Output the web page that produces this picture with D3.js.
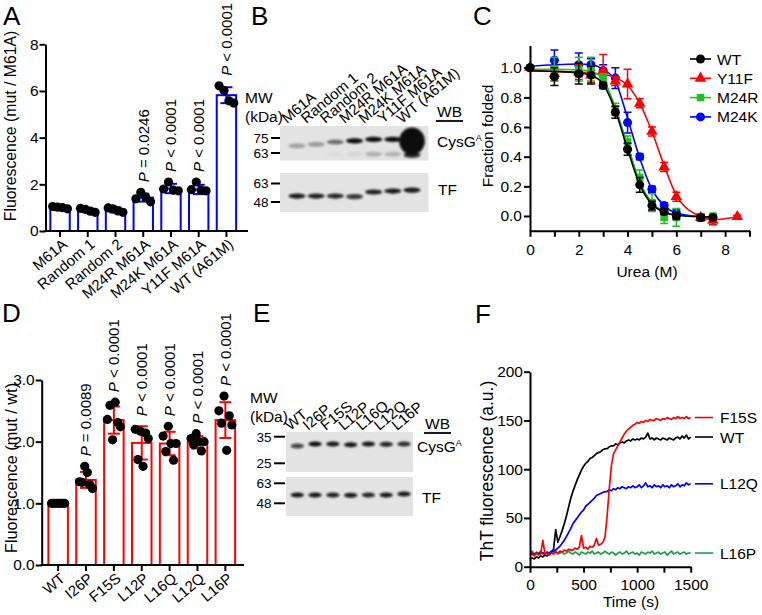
<!DOCTYPE html>
<html><head><meta charset="utf-8">
<script src="https://cdn.jsdelivr.net/npm/d3@7"></script>
<style>
body{margin:0;background:#fff}
svg{display:block}
text{font-family:"Liberation Sans",Arial,Helvetica,sans-serif;fill:#000}
</style>
</head><body><script>
// ================= DATA =================
// Panel A
const aCategories = ["M61A","Random 1","Random 2","M24R M61A","M24K M61A","Y11F M61A","WT (A61M)"];
const aMeans = [1.0,0.89,0.9,1.43,1.82,1.78,5.82];
const aSD = [0.05,0.08,0.11,0.17,0.2,0.2,0.34];
const aPoints = [[1.05,1.02,1.0,0.95],[0.97,0.93,0.85,0.8],[0.99,0.95,0.86,0.8],[1.38,1.66,1.45,1.25],[1.8,2.1,1.75,1.72],[1.77,2.1,1.75,1.72],[6.22,6.02,5.58,5.48]];
const aPValues = [null,null,null,"= 0.0246","< 0.0001","< 0.0001","< 0.0001"];
const aTicks = [0,2,4,6,8];

// Panel B (western blot)
const bLanes = ["M61A","Random 1","Random 2","M24R M61A","M24K M61A","Y11F M61A","WT (A61M)"];
const bCysMW = [68.5,69.7,71.6,72.6,73.8,73.8,72.4];
const bCysIntensity = [0.28,0.3,0.5,1.0,1.05,1.0,3.6];
const bCysLowMW = [62,62,62,62,62.2,62.2,61.5];
const bCysLowIntensity = [0,0,0.03,0.05,0.22,0.2,0.9];
const bTFMW = [52.4,52.4,52.4,52.0,55.6,56.4,57.2];
const bTFIntensity = [0.95,0.92,0.88,0.8,0.92,0.95,0.95];
const bMarkersCys = [75,63];
const bMarkersTF = [63,48];

// Panel C
const cUrea = [0,1,2,2.5,3,3.5,4,4.5,5,5.5,6,7,7.5];
const cUreaY11F = [0,1,2,2.5,3,3.5,4,4.5,5,5.5,6,7,7.5,8.5];
const cWT = [1.0,0.94,0.96,0.95,0.88,0.70,0.45,0.21,0.07,0.03,0.0,-0.01,-0.01];
const cWTsd = [0.01,0.06,0.07,0.06,0.02,0.04,0.04,0.05,0.03,0.02,0.02,0.02,0.01];
const cY11F = [1.0,0.96,0.97,0.95,0.98,0.91,0.89,0.76,0.57,0.33,0.13,-0.01,-0.03,-0.005];
const cY11Fsd = [0.01,0.05,0.05,0.05,0.11,0.03,0.1,0.03,0.03,0.03,0.03,0.02,0.03,0.01];
const cM24R = [1.0,0.99,0.99,0.99,0.93,0.72,0.50,0.26,0.09,-0.01,-0.01,-0.01,0.0];
const cM24Rsd = [0.01,0.08,0.08,0.08,0.03,0.04,0.04,0.05,0.06,0.04,0.06,0.02,0.01];
const cM24K = [1.0,1.05,1.02,1.02,0.98,0.93,0.63,0.40,0.18,0.07,0.02,-0.01,-0.01];
const cM24Ksd = [0.01,0.07,0.08,0.04,0.04,0.07,0.07,0.02,0.02,0.02,0.02,0.02,0.01];
const cFitWT = [0.98,0.975,0.965,0.95,0.89,0.71,0.45,0.21,0.08,0.025,0.005,-0.005,-0.005];
const cFitM24R = [0.99,0.99,0.985,0.975,0.92,0.73,0.48,0.23,0.09,0.03,0.005,-0.005,-0.005];
const cFitM24K = [1.01,1.02,1.025,1.02,0.99,0.91,0.66,0.39,0.18,0.07,0.02,-0.005,-0.01];
const cFitY11F = [0.98,0.975,0.97,0.965,0.955,0.935,0.88,0.76,0.57,0.34,0.14,-0.005,-0.025,-0.005];
const cXTicks = [0,1,2,3,4,5,6,7,8,9];
const cXLabels = [0,2,4,6,8];
const cYTicks = [0,0.2,0.4,0.6,0.8,1.0];

// Panel D
const dCategories = ["WT","I26P","F15S","L12P","L16Q","L12Q","L16P"];
const dMeans = [1.0,1.38,2.35,1.98,1.97,1.99,2.35];
const dSD = [0.0,0.13,0.22,0.27,0.19,0.1,0.29];
const dPoints = [[1,1,1,1,1,1],[1.35,1.34,1.6,1.5,1.3,1.24],[2.36,2.59,2.03,2.64,2.31,2.24],[2.2,1.71,2.17,1.6,2.14,2.05],[2.09,1.84,2.25,1.97,1.7,1.97],[2.05,1.95,2.13,2.0,1.85,2.0],[2.5,2.3,2.74,1.86,2.42,2.27]];
const dPValues = [null,"= 0.0089","< 0.0001","< 0.0001","< 0.0001","< 0.0001","< 0.0001"];
const dTicks = [0,1,2,3];

// Panel E (western blot)
const eLanes = ["WT","I26P","F15S","L12P","L16Q","L12Q","L16P"];
const eCysMW = [31.1,31.9,31.9,31.6,31.9,31.8,31.9];
const eCysIntensity = [0.75,1.0,0.95,0.95,0.95,0.9,0.85];
const eTFMW = [53.7,53.7,53.7,53.5,53.7,53.7,54.4];
const eTFIntensity = [0.95,0.95,0.9,0.95,0.88,0.95,0.95];
const eMarkersCys = [35,25];
const eMarkersTF = [63,48];

// Panel F
const fTime = [0,20,40,60,80,100,120,140,160,180,200,220,240,260,280,300,320,340,360,380,400,420,440,460,480,500,520,540,560,580,600,620,640,660,680,700,720,740,760,780,800,820,840,860,880,900,920,940,960,980,1000,1020,1040,1060,1080,1100,1120,1140,1160,1180,1200,1220,1240,1260,1280,1300,1320,1340,1360,1380,1400,1420,1440,1460,1480,1500];
const fWT = [8,9,8,10,9,11,10,12,11,13,15,18,38,25,31,37,44,52,61,70,77,83,89,94,99,103,106,108,111,112,114,116,117,118,120,121,121,123,124,124,126,125,127,128,127,129,130,129,131,130,131,130,132,131,133,137,131,132,130,132,131,130,132,131,130,132,131,130,132,133,131,134,132,135,131,133];
const fF15S = [12,13,11,14,12,13,27,13,14,12,14,13,15,14,16,15,17,16,18,17,17,19,18,20,32,19,20,18,21,20,22,29,22,23,25,30,52,80,104,116,120,124,128,132,136,139,141,143,145,146,148,147,149,148,150,149,151,150,150,152,151,150,152,151,153,152,151,153,152,154,152,153,152,154,152,153];
const fL12Q = [13,14,12,14,13,15,14,13,15,14,16,16,17,19,21,24,27,31,35,39,44,47,50,53,56,58,62,64,66,68,70,73,74,75,76,77,77,79,78,80,79,81,80,82,81,80,82,81,83,81,82,84,81,83,86,82,83,81,84,82,83,81,84,82,83,81,84,82,83,85,82,84,83,86,84,85];
const fL16P = [15,16,13,15,14,16,13,15,14,13,15,14,16,13,14,15,13,14,16,14,13,15,14,12,15,14,13,15,14,16,13,14,15,13,14,16,14,13,15,14,12,14,15,13,14,16,13,14,15,13,14,12,15,14,13,15,14,16,13,14,15,13,14,15,12,14,16,13,14,15,13,14,15,13,14,14];
const fXTicks = [0,250,500,750,1000,1250,1500];
const fXLabels = [0,500,1000,1500];
const fYTicks = [0,50,100,150,200];

// ================= DRAWING =================
const svg = d3.select("body").append("svg").attr("width",762).attr("height",615);
const defs = svg.append("defs");
defs.append("filter").attr("id","blur").attr("x","-50%").attr("y","-100%").attr("width","200%").attr("height","300%")
  .append("feGaussianBlur").attr("stdDeviation",1.1);

function styleAxis(ag){
  ag.attr("font-family",null).attr("font-size",null);
  ag.select(".domain").attr("stroke","#000").attr("stroke-width",2);
  ag.selectAll(".tick line").attr("stroke","#000").attr("stroke-width",2);
  ag.selectAll(".tick text").attr("fill","#000").attr("font-size",15.5);
}
function letter(t,x,y){ svg.append("text").attr("x",x).attr("y",y).attr("font-size",26).text(t); }
function rotTitle(t,x,y,fs){ svg.append("text").attr("transform",`translate(${x},${y}) rotate(-90)`).attr("text-anchor","middle").attr("font-size",fs||15.5).text(t); }

function barPanel(c){
  const x = d3.scaleBand().domain(c.cats).range(c.xr).paddingInner(0.25).paddingOuter(0.15);
  const y = d3.scaleLinear().domain(c.yd).range(c.yr);
  const mid = d => x(d) + x.bandwidth()/2;
  const rows = c.cats.map((cat,i)=>({cat, mean:c.means[i], sd:c.sd[i], pts:c.points[i], p:c.p[i]}));
  const g = svg.append("g");
  g.selectAll("rect.bar").data(rows).join("rect").attr("class","bar")
    .attr("x",d=>x(d.cat)+0.7).attr("width",x.bandwidth()-1.4)
    .attr("y",d=>y(d.mean)).attr("height",d=>y(0)-y(d.mean))
    .attr("fill","#fff").attr("stroke",c.color).attr("stroke-width",2);
  const eb = g.selectAll("g.eb").data(rows).join("g").attr("class","eb")
    .attr("stroke",c.color).attr("stroke-width",2);
  eb.append("line").attr("x1",d=>mid(d.cat)).attr("x2",d=>mid(d.cat)).attr("y1",d=>y(d.mean-d.sd)).attr("y2",d=>y(d.mean+d.sd));
  eb.append("line").attr("x1",d=>mid(d.cat)-6).attr("x2",d=>mid(d.cat)+6).attr("y1",d=>y(d.mean+d.sd)).attr("y2",d=>y(d.mean+d.sd));
  eb.append("line").attr("x1",d=>mid(d.cat)-6).attr("x2",d=>mid(d.cat)+6).attr("y1",d=>y(d.mean-d.sd)).attr("y2",d=>y(d.mean-d.sd));
  g.selectAll("g.pts").data(rows).join("g").attr("class","pts")
    .selectAll("circle").data(d=>d.pts.map((v,j)=>({v,j,n:d.pts.length,cat:d.cat}))).join("circle")
    .attr("cx",d=>mid(d.cat)+(d.j-(d.n-1)/2)*c.step).attr("cy",d=>y(d.v)).attr("r",4.6).attr("fill","#000");
  // p labels
  g.selectAll("text.pl").data(rows.filter(d=>d.p)).join("text").attr("class","pl")
    .attr("font-size",15)
    .attr("transform",d=>{const top=Math.min(y(d3.max(d.pts)),y(d.mean+d.sd))-10; return `translate(${mid(d.cat)+5.3},${top}) rotate(-90)`;})
    .each(function(d){const t=d3.select(this); t.append("tspan").attr("font-style","italic").text("P"); t.append("tspan").text(" "+d.p);});
  // axes
  const ya = g.append("g").attr("transform",`translate(${c.axisX},0)`)
    .call(d3.axisLeft(y).tickValues(c.ticks).tickSize(6).tickPadding(1).tickSizeOuter(0));
  styleAxis(ya);
  const xa = g.append("g").attr("transform",`translate(0,${y(0)})`)
    .call(d3.axisBottom(x).tickSize(6).tickSizeOuter(0));
  styleAxis(xa);
  xa.select(".domain").remove();
  xa.selectAll(".tick text").attr("x",0).attr("y",0).attr("dy",0).attr("text-anchor","end")
    .attr("font-size",15).attr("transform","translate(8,15) rotate(-40)");
  g.append("line").attr("x1",c.axisX).attr("x2",c.axisEnd).attr("y1",y(0)).attr("y2",y(0))
    .attr("stroke","#000").attr("stroke-width",2).attr("stroke-linecap","square");
  rotTitle(c.title,c.titleX,c.titleY,c.titleFs);
}

barPanel({cats:aCategories,means:aMeans,sd:aSD,points:aPoints,p:aPValues,ticks:aTicks,
  yd:[0,8],yr:[231,44.3],xr:[45.5,241],axisX:45.5,axisEnd:247,color:"#0000ff",step:4.9,
  title:"Fluorescence (mut / M61A)",titleX:16,titleY:126,titleFs:15.8});
barPanel({cats:dCategories,means:dMeans,sd:dSD,points:dPoints,p:dPValues,ticks:dTicks,
  yd:[0,3],yr:[565,380],xr:[43.5,240],axisX:41.7,axisEnd:243,color:"#ff0000",step:2.6,
  title:"Fluorescence (mut / wt)",titleX:16.5,titleY:468,titleFs:16.3});

// ---------- Blots ----------
function blotPanel(c){
  const lane = d3.scalePoint().domain(c.lanes).range(c.laneRange);
  const g = svg.append("g");
  c.strips.forEach(s=>{
    const mw = d3.scaleLog().domain(s.markers).range(s.markerY);
    g.append("rect").attr("x",c.x0).attr("y",s.y0).attr("width",c.x1-c.x0).attr("height",s.y1-s.y0).attr("fill","#e3e3e3");
    const bg = g.append("g").attr("filter","url(#blur)");
    s.bands.forEach(b=>{
      bg.selectAll(null).data(c.lanes.map((l,i)=>({l,mw:b.mw[i],v:b.int[i]})).filter(d=>d.v>0)).join("ellipse")
        .attr("cx",d=>lane(d.l)).attr("cy",d=>mw(d.mw))
        .attr("rx",d=>c.rx+Math.max(0,d.v-1.2)*1.8).attr("ry",d=>c.ry+Math.max(0,d.v-1.2)*4.6)
        .attr("fill","#0a0a0a").attr("fill-opacity",d=>Math.min(1,d.v));
    });
    s.markers.forEach(m=>{
      g.append("line").attr("x1",c.dash[0]).attr("x2",c.dash[1]).attr("y1",mw(m)).attr("y2",mw(m)).attr("stroke","#000").attr("stroke-width",2);
      g.append("text").attr("x",c.dash[0]-2.5).attr("y",mw(m)).attr("dy","0.36em").attr("text-anchor","end").attr("font-size",c.mwFont).text(m);
    });
  });
  g.selectAll("text.lane").data(c.lanes).join("text").attr("class","lane").attr("font-size",c.laneFont)
    .attr("transform",d=>`translate(${lane(d)+c.labOff},${c.labY}) rotate(-40)`).text(d=>d);
  g.append("text").attr("x",c.mwX).attr("y",c.mwY).attr("font-size",15.5).text("MW");
  g.append("text").attr("x",c.mwX).attr("y",c.mwY+19).attr("font-size",15.5).text("(kDa)");
  g.append("text").attr("x",c.wb[0]).attr("y",c.wb[1]).attr("font-size",15.5).text("WB");
  g.append("line").attr("x1",c.wb[0]-1).attr("x2",c.wb[0]+26).attr("y1",c.wb[1]+4).attr("y2",c.wb[1]+4).attr("stroke","#000").attr("stroke-width",1.8);
  const cy = g.append("text").attr("x",c.cys[0]).attr("y",c.cys[1]).attr("font-size",15.5);
  cy.append("tspan").text("CysG");
  cy.append("tspan").attr("font-size",9).attr("dy",-6).text("A");
  g.append("text").attr("x",c.tf[0]).attr("y",c.tf[1]).attr("font-size",15.5).text("TF");
}

blotPanel({lanes:bLanes,laneRange:[297,412],x0:280,x1:428.5,rx:8.5,ry:2.6,dash:[271,280],mwFont:13.5,laneFont:15,
  strips:[
    {y0:126,y1:160.5,markers:bMarkersCys,markerY:[138,153],bands:[{mw:bCysMW,int:bCysIntensity},{mw:bCysLowMW,int:bCysLowIntensity}]},
    {y0:173,y1:212,markers:bMarkersTF,markerY:[183.5,202],bands:[{mw:bTFMW,int:bTFIntensity}]}
  ],
  labOff:-10,labY:124,mwX:245,mwY:103,wb:[437,117],cys:[437,147],tf:[438,195]});

blotPanel({lanes:eLanes,laneRange:[297.3,404],x0:286,x1:413,rx:6.6,ry:2.5,dash:[274,285],mwFont:13.5,laneFont:15,
  strips:[
    {y0:432,y1:472,markers:eMarkersCys,markerY:[436.7,463.3],bands:[{mw:eCysMW,int:eCysIntensity}]},
    {y0:477,y1:516,markers:eMarkersTF,markerY:[483.3,503.3],bands:[{mw:eTFMW,int:eTFIntensity}]}
  ],
  labOff:-7,labY:431,mwX:250,mwY:403,wb:[425,429],cys:[417,452],tf:[422,503]});

// ---------- Panel C ----------
(function(){
  const x = d3.scaleLinear().domain([0,9]).range([530,749.5]);
  const y = d3.scaleLinear().domain([-0.1,1.15]).range([230.8,45.5]);
  const g = svg.append("g");
  const series = [
    {name:"M24K",xs:cUrea,ys:cM24K,sd:cM24Ksd,fit:cFitM24K,color:"#0000ff",sym:d3.symbolCircle,size:64},
    {name:"Y11F",xs:cUreaY11F,ys:cY11F,sd:cY11Fsd,fit:cFitY11F,color:"#ff0000",sym:d3.symbolTriangle,size:58},
    {name:"M24R",xs:cUrea,ys:cM24R,sd:cM24Rsd,fit:cFitM24R,color:"#1fc01f",sym:d3.symbolSquare,size:56},
    {name:"WT",xs:cUrea,ys:cWT,sd:cWTsd,fit:cFitWT,color:"#000000",sym:d3.symbolCircle,size:64}
  ];
  series.forEach(s=>{
    const line = d3.line().x((d,i)=>x(s.xs[i])).y(d=>y(d)).curve(d3.curveMonotoneX);
    g.append("path").attr("d",line(s.fit)).attr("fill","none").attr("stroke",s.color).attr("stroke-width",1.6);
    const pts = s.ys.map((v,i)=>({x:s.xs[i],v,sd:s.sd[i]}));
    const eg = g.append("g").attr("stroke",s.color).attr("stroke-width",1.5);
    eg.selectAll("path").data(pts).join("path")
      .attr("d",d=>`M${x(d.x)},${y(d.v-d.sd)}V${y(d.v+d.sd)}M${x(d.x)-4},${y(d.v+d.sd)}H${x(d.x)+4}M${x(d.x)-4},${y(d.v-d.sd)}H${x(d.x)+4}`)
      .attr("fill","none");
    g.append("g").selectAll("path").data(pts).join("path")
      .attr("transform",d=>`translate(${x(d.x)},${y(d.v)})`)
      .attr("d",d3.symbol().type(s.sym).size(s.size)).attr("fill",s.color);
  });
  const xa = g.append("g").attr("transform",`translate(0,${y(-0.1)})`)
    .call(d3.axisBottom(x).tickValues(cXTicks).tickFormat(d=>cXLabels.includes(d)?d:"").tickSize(6).tickPadding(7).tickSizeOuter(0));
  styleAxis(xa);
  const ya = g.append("g").attr("transform",`translate(${x(0)},0)`)
    .call(d3.axisLeft(y).tickValues(cYTicks).tickFormat(d3.format(".1f")).tickSize(6).tickPadding(2).tickSizeOuter(0));
  styleAxis(ya);
  g.append("text").attr("x",647).attr("y",277).attr("text-anchor","middle").attr("font-size",15.5).text("Urea (M)");
  rotTitle("Fraction folded",493,136,15.5);
  // legend
  const order = ["WT","Y11F","M24R","M24K"];
  const leg = g.selectAll("g.leg").data(order.map(n=>series.find(s=>s.name===n))).join("g").attr("class","leg")
    .attr("transform",(d,i)=>`translate(690,${59+i*19.3})`);
  leg.append("line").attr("x1",0).attr("x2",21).attr("stroke",d=>d.color).attr("stroke-width",1.6);
  leg.append("path").attr("transform","translate(10.5,0)").attr("d",d=>d3.symbol().type(d.sym).size(d.size)()).attr("fill",d=>d.color);
  leg.append("text").attr("x",27).attr("dy","0.36em").attr("font-size",15.5).text(d=>d.name);
})();

// ---------- Panel F ----------
(function(){
  const x = d3.scaleLinear().domain([0,1500]).range([530,690.7]);
  const y = d3.scaleLinear().domain([0,200]).range([566.7,371.7]);
  const g = svg.append("g");
  const series = [
    {name:"L16P",ys:fL16P,color:"#1e9e40"},
    {name:"WT",ys:fWT,color:"#000000"},
    {name:"L12Q",ys:fL12Q,color:"#0000ff"},
    {name:"F15S",ys:fF15S,color:"#ff0000"}
  ];
  const line = d3.line().x((d,i)=>x(fTime[i])).y(d=>y(d));
  series.forEach(s=>{
    g.append("path").attr("d",line(s.ys)).attr("fill","none").attr("stroke",s.color).attr("stroke-width",1.7).attr("stroke-linejoin","round");
  });
  const lab = g.selectAll("g.fl").data(series).join("g").attr("class","fl")
    .attr("transform",d=>`translate(695,${y(d.ys[d.ys.length-1])})`);
  lab.append("line").attr("x1",0).attr("x2",18).attr("stroke",d=>d.color).attr("stroke-width",1.6);
  lab.append("text").attr("x",25).attr("dy","0.36em").attr("font-size",15.5).text(d=>d.name);
  const xa = g.append("g").attr("transform",`translate(0,${y(0)})`)
    .call(d3.axisBottom(x).tickValues(fXTicks).tickFormat(d=>fXLabels.includes(d)?d:"").tickSize(6).tickPadding(6).tickSizeOuter(0));
  styleAxis(xa);
  const ya = g.append("g").attr("transform",`translate(${x(0)},0)`)
    .call(d3.axisLeft(y).tickValues(fYTicks).tickSize(6).tickPadding(1).tickSizeOuter(0));
  styleAxis(ya);
  g.append("text").attr("x",631).attr("y",607).attr("text-anchor","middle").attr("font-size",15.5).text("Time (s)");
  rotTitle("ThT fluorescence (a.u.)",493,471,17.5);
})();

letter("A",3,25); letter("B",251,25); letter("C",473,25);
letter("D",2,322); letter("E",253,322); letter("F",475,323);
</script></body></html>
